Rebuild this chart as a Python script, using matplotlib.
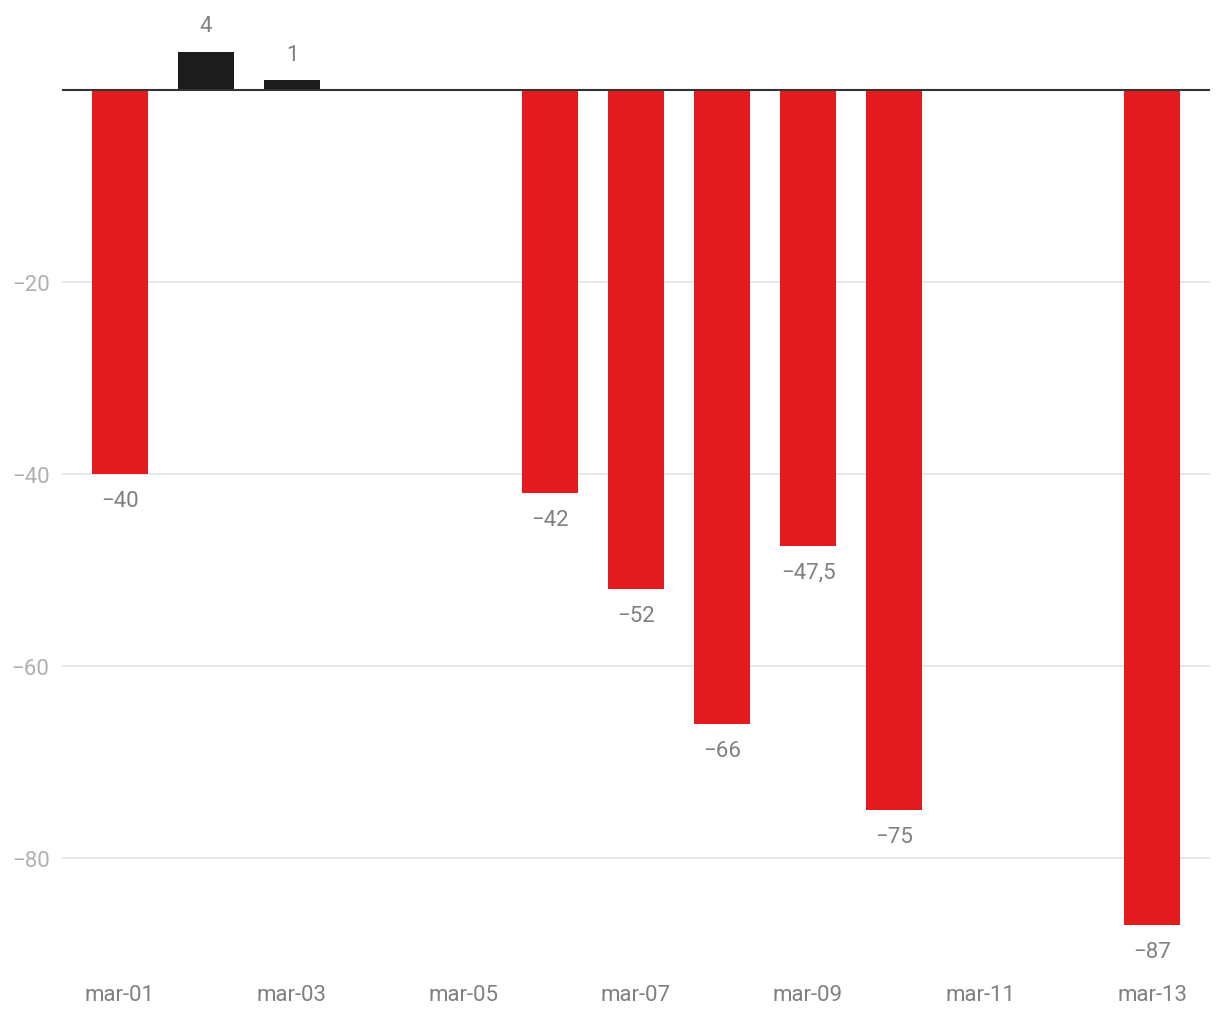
import matplotlib.pyplot as plt

days = [1, 2, 3, 6, 7, 8, 9, 10, 13]
values = [-40, 4, 1, -42, -52, -66, -47.5, -75, -87]
tick_days = [1, 3, 5, 7, 9, 11, 13]
tick_labels = ["mar-01", "mar-03", "mar-05", "mar-07", "mar-09", "mar-11", "mar-13"]
y_ticks = [-20, -40, -60, -80]

RED = "#e31b1e"
DARK = "#1c1c1c"


def fmt(v):
    s = f"{abs(v):g}".replace(".", ",")
    return ("\u2212" + s) if v < 0 else s


plt.rcParams["font.family"] = ["Roboto", "DejaVu Sans"]

fig = plt.figure(figsize=(12.2, 10.2), dpi=100)
ax = fig.add_axes([62 / 1220, 0.0449, (1210 - 62) / 1220, 0.9223])

colors = [RED if v < 0 else DARK for v in values]
ax.bar(days, values, width=0.66, color=colors, zorder=2)

for d, v in zip(days, values):
    off = -19 if v < 0 else 19
    ax.annotate(fmt(v), (d, v), xytext=(0, off), textcoords="offset points",
                ha="center", va="center", fontsize=16, color="#808080")

ax.axhline(0, color="#333333", linewidth=1.5, zorder=3)

ax.set_xlim(0.326, 13.674)
ax.set_ylim(-92, 6)
ax.set_xticks(tick_days)
ax.set_xticklabels(tick_labels)
ax.set_yticks(y_ticks)
ax.set_yticklabels([fmt(t) for t in y_ticks])
ax.grid(axis="y", color="#e3e3e3", linewidth=1.2, zorder=0)
ax.set_axisbelow(True)
ax.tick_params(axis="x", length=0, pad=8, labelsize=16, labelcolor="#808080")
ax.tick_params(axis="y", length=0, pad=9, labelsize=16, labelcolor="#b0b0b0")
for sp in ax.spines.values():
    sp.set_visible(False)

fig.savefig("out.png", dpi=100)
plt.close(fig)
